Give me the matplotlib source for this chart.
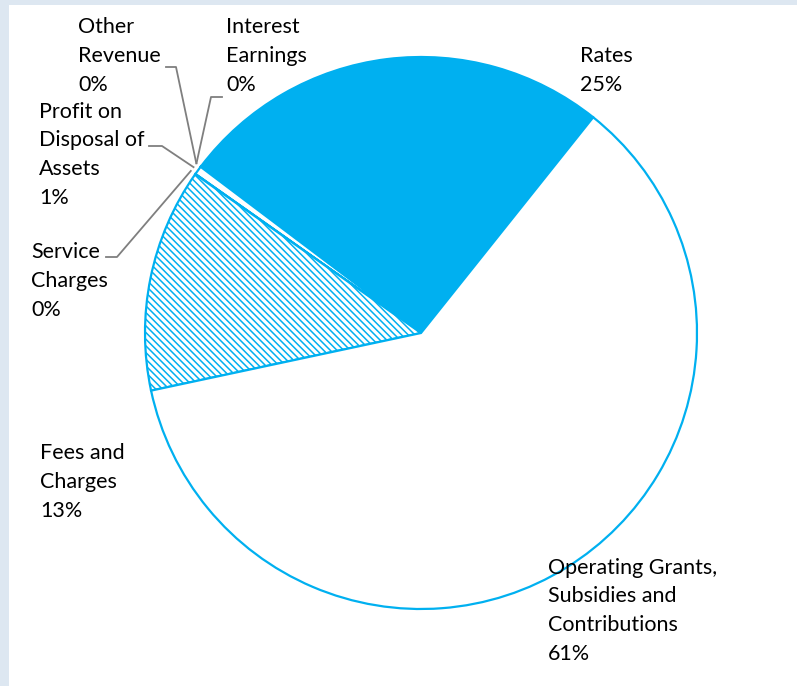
import matplotlib.pyplot as plt
import numpy as np

W, H = 797, 686

labels = ['Rates', 'Interest\nEarnings', 'Other\nRevenue',
          'Profit on\nDisposal of\nAssets', 'Service\nCharges',
          'Fees and\nCharges',
          'Operating Grants,\nSubsidies and\nContributions']
shares = [25.4, 0.02, 0.02, 0.51, 0.02, 13.1, 60.93]

BLUE = '#00b0f0'
GREY = '#7f7f7f'
fills = [BLUE, 'white', 'white', 'white', 'white', 'white', 'white']
hatches = [None, None, None, None, None, '\\' * 5, None]

# label placement in pixel coords (x left, last baseline, y down)
label_pos = [(580, 91), (226, 91), (78, 91), (39, 204), (31, 316),
             (40, 517), (548, 660)]
# leader lines: (start x, start y, elbow x) or None
leaders = [None, (222, 97, 211), (166, 67, 176), (149, 146, 162),
           (106, 257, 117), None, None]

plt.rcParams['font.family'] = ['Lato', 'DejaVu Sans']
plt.rcParams['hatch.linewidth'] = 1.1

fig = plt.figure(figsize=(W / 100, H / 100), dpi=100)
fig.patch.set_facecolor('#dde7f1')
ax = fig.add_axes([0, 0, 1, 1])
ax.set_xlim(0, W)
ax.set_ylim(0, H)
ax.set_aspect('equal')
ax.axis('off')

# white plot area inside the light frame
ax.add_patch(plt.Rectangle((9, 0), W - 9, H - 5, facecolor='white',
                           edgecolor='none', zorder=0))

cx, cy, r = 421, H - 333, 276
wedges, _ = ax.pie(shares, center=(cx, cy), radius=r, startangle=51.4,
                   counterclock=True, colors=fills,
                   wedgeprops=dict(edgecolor=BLUE, linewidth=1.6))
for w, h in zip(wedges, hatches):
    if h:
        w.set_hatch(h)
ax.set_xlim(0, W)
ax.set_ylim(0, H)

total = sum(shares)
for i, (w, lab) in enumerate(zip(wedges, labels)):
    pct = '{:.0f}%'.format(shares[i] / total * 100)
    x, y = label_pos[i]
    ax.text(x, H - y, lab + '\n' + pct, ha='left', va='baseline',
            fontsize=15.5, color='black', linespacing=1.55, zorder=5)
    if leaders[i]:
        sx, sy, ex = leaders[i]
        ang = np.deg2rad((w.theta1 + w.theta2) / 2)
        px = cx + r * 1.02 * np.cos(ang)
        py = cy + r * 1.02 * np.sin(ang)
        ax.plot([sx, ex, px], [H - sy, H - sy, py], color=GREY, lw=1.3,
                zorder=4)

fig.savefig('out.png', dpi=100, facecolor=fig.get_facecolor())
